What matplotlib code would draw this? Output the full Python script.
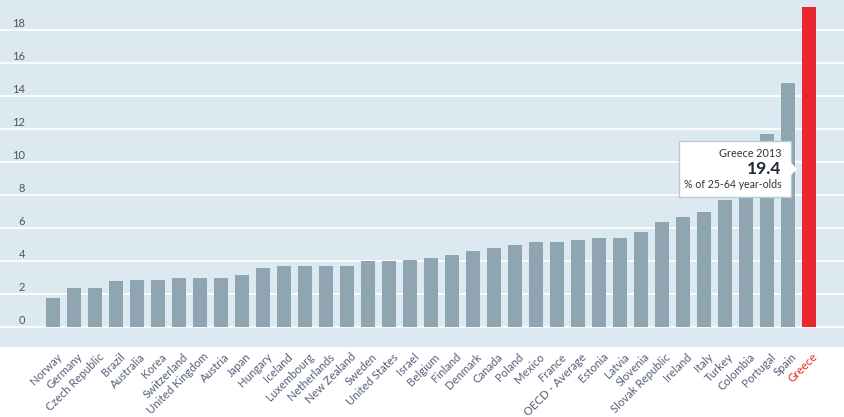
import matplotlib
matplotlib.use('Agg')
import matplotlib.pyplot as plt
from matplotlib.patches import Rectangle, Polygon
import numpy as np

plt.rcParams['font.family'] = ['Lato', 'DejaVu Sans']

countries = ['Norway', 'Germany', 'Czech Republic', 'Brazil', 'Australia', 'Korea',
             'Switzerland', 'United Kingdom', 'Austria', 'Japan', 'Hungary', 'Iceland',
             'Luxembourg', 'Netherlands', 'New Zealand', 'Sweden', 'United States', 'Israel',
             'Belgium', 'Finland', 'Denmark', 'Canada', 'Poland', 'Mexico', 'France',
             'OECD - Average', 'Estonia', 'Latvia', 'Slovenia', 'Slovak Republic', 'Ireland',
             'Italy', 'Turkey', 'Colombia', 'Portugal', 'Spain', 'Greece']
values = [1.8, 2.4, 2.4, 2.8, 2.9, 2.9,
          3.0, 3.0, 3.0, 3.2, 3.6, 3.7,
          3.7, 3.7, 3.7, 4.0, 4.0, 4.1,
          4.2, 4.4, 4.6, 4.8, 5.0, 5.2, 5.2,
          5.3, 5.4, 5.4, 5.8, 6.4, 6.7,
          7.0, 7.7, 8.7, 11.7, 14.8, 19.4]
y_ticks = [0, 2, 4, 6, 8, 10, 12, 14, 16, 18]
highlight = 'Greece'
tip_title = 'Greece 2013'
tip_value = '19.4'
tip_unit = '% of 25-64 year-olds'

bg = '#dde9f1'
bar_col = '#8fa5b2'
red = '#e8262d'
lab_col = '#56607a'

fig = plt.figure(figsize=(8.45, 4.17), dpi=100)
ax = fig.add_axes([0, 1 - 347 / 417, 1, 347 / 417])
ax.set_facecolor(bg)
for s in ax.spines.values():
    s.set_visible(False)

x = np.arange(len(countries))
colors = [red if c == highlight else bar_col for c in countries]
ax.bar(x, values, width=0.667, color=colors, zorder=3)

ax.set_xlim(-2.52, 37.71)
ax.set_ylim(-1.19, 19.84)
for t in y_ticks:
    ax.axhline(t, color='white', lw=1.2, zorder=1)
    ax.text(25 / 845, t + 0.42, str(t), transform=ax.get_yaxis_transform(),
            ha='right', va='center', fontsize=8, color='#4f555c')
ax.set_xticks([])
ax.set_yticks([])

# rotated country labels below the plot
for i, c in enumerate(countries):
    ax.annotate(c, xy=(i + 0.15, 0), xycoords=('data', 'axes fraction'),
                xytext=(0, -3), textcoords='offset points',
                rotation=45, rotation_mode='anchor', ha='right', va='top',
                fontsize=8.2, color=red if c == highlight else lab_col,
                annotation_clip=False)

# tooltip
gi = countries.index(highlight)
gv = values[gi]
bx0, bx1 = gi - 6.19, gi - 0.86
by0, by1 = 7.88, 11.31
ax.add_patch(Rectangle((bx0, by0), bx1 - bx0, by1 - by0, facecolor='white',
                       edgecolor='#b8cad8', lw=1, zorder=5))
tip_y = 9.6
ax.add_patch(Polygon([(bx1 - 0.02, tip_y + 0.4), (gi - 0.57, tip_y), (bx1 - 0.02, tip_y - 0.4)],
                     closed=True, facecolor='white', edgecolor='none', zorder=6))
tx = gi - 1.3
ax.text(tx, 10.56, tip_title, ha='right', va='center', fontsize=7.8, color='#333333', zorder=7)
ax.text(tx, 9.6, tip_value, ha='right', va='center', fontsize=12.5, fontweight='bold',
        color='#1f2a36', zorder=7)
ax.text(tx, 8.68, tip_unit, ha='right', va='center', fontsize=7.6, color='#333333', zorder=7)

fig.savefig('out.png', dpi=100, facecolor='white')
